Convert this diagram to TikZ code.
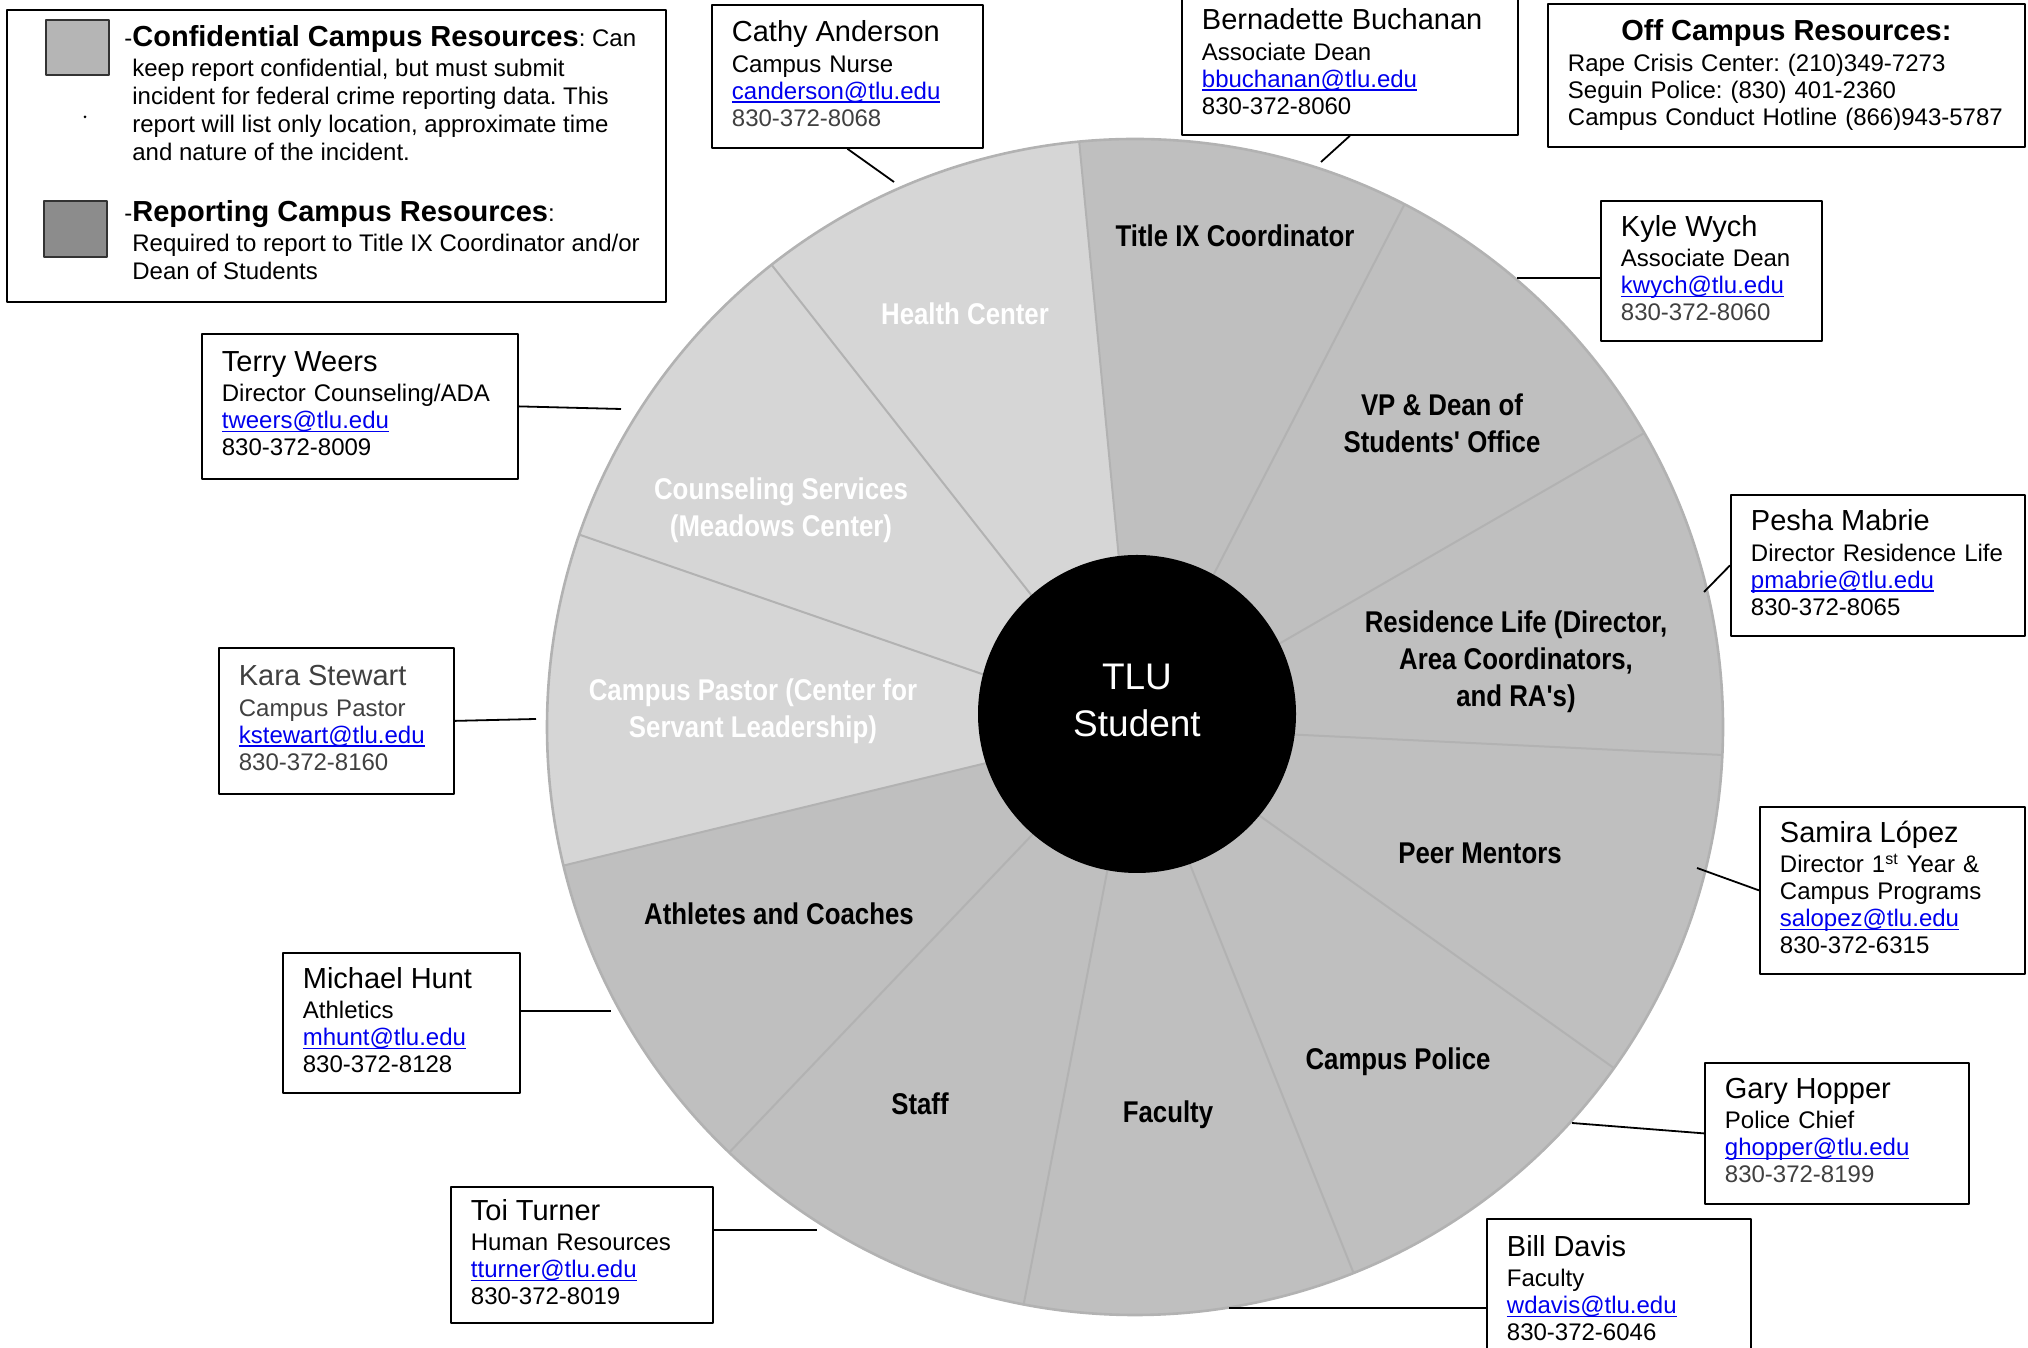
\documentclass[tikz,border=0pt]{standalone}
\usepackage{fontspec}
\setmainfont{Liberation Sans}
\newfontfamily\narrowsans[FakeStretch=0.86]{Liberation Sans}
\frenchspacing
\definecolor{reportgray}{RGB}{191,191,191}
\definecolor{confgray}{RGB}{214,214,214}
\definecolor{rimgray}{RGB}{178,178,178}
\definecolor{keylight}{RGB}{181,181,181}
\definecolor{keydark}{RGB}{140,140,140}
\definecolor{softink}{RGB}{64,64,64}
\definecolor{linkblue}{RGB}{0,0,238}
\newcommand{\mail}[1]{\textcolor{linkblue}{\setbox0\hbox{#1}\rlap{\rule[-1.8pt]{\wd0}{0.7pt}}\box0}}
\newcommand{\who}[1]{{\fontsize{14.5}{16}\selectfont #1}}
\newcommand{\tel}[1]{#1\rule[-3pt]{0pt}{3pt}}

\begin{document}
\begin{tikzpicture}[x=0.5pt, y=0.5pt, line join=round,
		contact/.style={draw, line width=0.9pt, fill=white, anchor=north west, align=left, inner xsep=10pt, inner ysep=0pt, font=\fontsize{12}{13.5}\selectfont},
		slice/.style={align=center, font=\narrowsans\bfseries\fontsize{15}{18.5}\selectfont},
		key/.style={draw=black!80, line width=1.2pt, anchor=north west, minimum width=31.5pt, inner sep=0pt},
		wire/.style={line width=0.9pt}]
	\useasboundingbox (0,0) rectangle (2028,1348);
	\coordinate (C) at (1135,621);
	\fill[reportgray] (C) circle [radius=588];
	\fill[confgray] (C) -- ++(95.45:588) arc [start angle=95.45, end angle=193.64, radius=588] -- cycle;
	\foreach \k in {0,...,10}
		\draw[rimgray, line width=1pt] (C) -- ++({-2.73+\k*32.727}:588);
	\draw[rimgray, line width=1.3pt] (C) circle [radius=588];
	\node[circle, fill=black, text=white, minimum size=159pt, inner sep=0pt, align=center, font=\fontsize{18.5}{23.5}\selectfont] (tlu) at (1137,634) {TLU\\Student\rule[-14pt]{0pt}{14pt}};
	\node[slice] (titleix) at (1235,1112) {Title IX Coordinator};
	\node[slice] (vpdean) at (1442,925) {VP \& Dean of\\Students' Office};
	\node[slice] (reslife) at (1516,686) {Residence Life (Director,\\Area Coordinators,\\and RA's)};
	\node[slice] (peers) at (1480,495) {Peer Mentors};
	\node[slice] (police) at (1398,286) {Campus Police};
	\node[slice] (faculty) at (1168,233) {Faculty};
	\node[slice] (staff) at (920,244) {Staff};
	\node[slice] (athletes) at (779,434) {Athletes and Coaches};
	\node[slice, text=white] (pastor) at (753,637) {Campus Pastor (Center for\\Servant Leadership)};
	\node[slice, text=white] (counsel) at (781,838) {Counseling Services\\(Meadows Center)};
	\node[slice, text=white] (health) at (965,1034) {Health Center};

	\node[draw, line width=0.9pt, anchor=north west, minimum width=329.5pt, minimum height=146pt, inner sep=0pt] (legend) at (6,1339) {};
	\node[key, fill=keylight, minimum height=27.5pt] (confkey) at (45,1329) {};
	\node[key, fill=keydark, minimum height=28pt] (repkey) at (43,1148) {};
	\fill (85,1231) circle [radius=1.5];
	\node[anchor=west, align=left, inner sep=0pt, font=\fontsize{12}{14}\selectfont] (confnote) at (132,1255) {\llap{-}\who{\bfseries Confidential Campus Resources}: Can\\[1pt] keep report confidential, but must submit\\ incident for federal crime reporting data. This\\ report will list only location, approximate time\\ and nature of the incident.};
	\node[anchor=west, align=left, inner sep=0pt, font=\fontsize{12}{14}\selectfont] (repnote) at (132,1108) {\llap{-}\who{\bfseries Reporting Campus Resources}:\\[1pt] Required to report to Title IX Coordinator and/or\\ Dean of Students};

	\node[contact, text width=115.5pt, minimum height=71.5pt] (cathy) at (711,1344) {\who{Cathy Anderson}\\[1.75pt] Campus Nurse\\ \mail{canderson@tlu.edu}\\ \tel{\textcolor{softink}{830-372-8068}}};
	\node[contact, text width=148pt, minimum height=70.5pt] (bbuch) at (1181,1355) {\who{Bernadette Buchanan}\\[1.75pt] Associate Dean\\ \mail{bbuchanan@tlu.edu}\\ \tel{830-372-8060}};
	\node[contact, text width=218.5pt, minimum height=71.5pt] (offsite) at (1547,1345) {\makebox[218.5pt]{\who{\bfseries Off Campus Resources:}}\\[1.75pt] Rape Crisis Center: (210)349-7273\\ Seguin Police: (830) 401-2360\\ \tel{Campus Conduct Hotline (866)943-5787}};
	\node[contact, text width=90.5pt, minimum height=70pt] (kyle) at (1600,1148) {\who{Kyle Wych}\\[1.75pt] Associate Dean\\ \mail{kwych@tlu.edu}\\ \tel{\textcolor{softink}{830-372-8060}}};
	\node[contact, text width=127pt, minimum height=70.5pt] (pesha) at (1730,854) {\who{Pesha Mabrie}\\[1.75pt] Director Residence Life\\ \mail{pmabrie@tlu.edu}\\ \tel{830-372-8065}};
	\node[contact, text width=112.5pt, minimum height=83.5pt] (samira) at (1759,542) {\who{Samira López}\\[1.75pt] Director 1\textsuperscript{st} Year \&\\ Campus Programs\\ \mail{salopez@tlu.edu}\\ \tel{830-372-6315}};
	\node[contact, text width=112pt, minimum height=70.5pt] (gary) at (1704,286) {\who{Gary Hopper}\\[1.75pt] Police Chief\\ \mail{ghopper@tlu.edu}\\ \tel{\textcolor{softink}{830-372-8199}}};
	\node[contact, text width=112pt, minimum height=72pt] (bill) at (1486,130) {\who{Bill Davis}\\[1.75pt] Faculty\\ \mail{wdavis@tlu.edu}\\ \tel{830-372-6046}};
	\node[contact, text width=138pt, minimum height=72.5pt] (terry) at (201,1015) {\who{Terry Weers}\\[1.75pt] Director Counseling/ADA\\ \mail{tweers@tlu.edu}\\ \tel{830-372-8009}};
	\node[contact, text width=97.5pt, minimum height=73pt, text=softink] (kara) at (218,701) {\who{Kara Stewart}\\[1.75pt] Campus Pastor\\ \mail{kstewart@tlu.edu}\\ \tel{830-372-8160}};
	\node[contact, text width=98.5pt, minimum height=70pt] (hunt) at (282,396) {\who{Michael Hunt}\\[1.75pt] Athletics\\ \mail{mhunt@tlu.edu}\\ \tel{830-372-8128}};
	\node[contact, text width=111pt, minimum height=68pt] (toi) at (450,162) {\who{Toi Turner}\\[1.75pt] Human Resources\\ \mail{tturner@tlu.edu}\\ \tel{830-372-8019}};

	\coordinate (cCathy) at (894,1166);
	\coordinate (cBbuch) at (1321,1186);
	\coordinate (cKyle) at (1517,1070);
	\coordinate (cPesha) at (1704,756);
	\coordinate (cSamira) at (1697,480);
	\coordinate (cGary) at (1572,225);
	\coordinate (cBill) at (1229,40);
	\coordinate (cToi) at (817,118);
	\coordinate (cHunt) at (611,337);
	\coordinate (cKara) at (536,629);
	\coordinate (cTerry) at (621,939);
	\draw[wire] (cathy.south) -- (cCathy);
	\draw[wire] (bbuch.south) -- (cBbuch);
	\draw[wire] (kyle.west |- cKyle) -- (cKyle);
	\draw[wire] (pesha.west) -- (cPesha);
	\draw[wire] (samira.west) -- (cSamira);
	\draw[wire] (gary.west) -- (cGary);
	\draw[wire] (bill.west |- cBill) -- (cBill);
	\draw[wire] (toi.east |- cToi) -- (cToi);
	\draw[wire] (hunt.east |- cHunt) -- (cHunt);
	\draw[wire] (kara.east) -- (cKara);
	\draw[wire] (terry.east) -- (cTerry);
\end{tikzpicture}
\end{document}
